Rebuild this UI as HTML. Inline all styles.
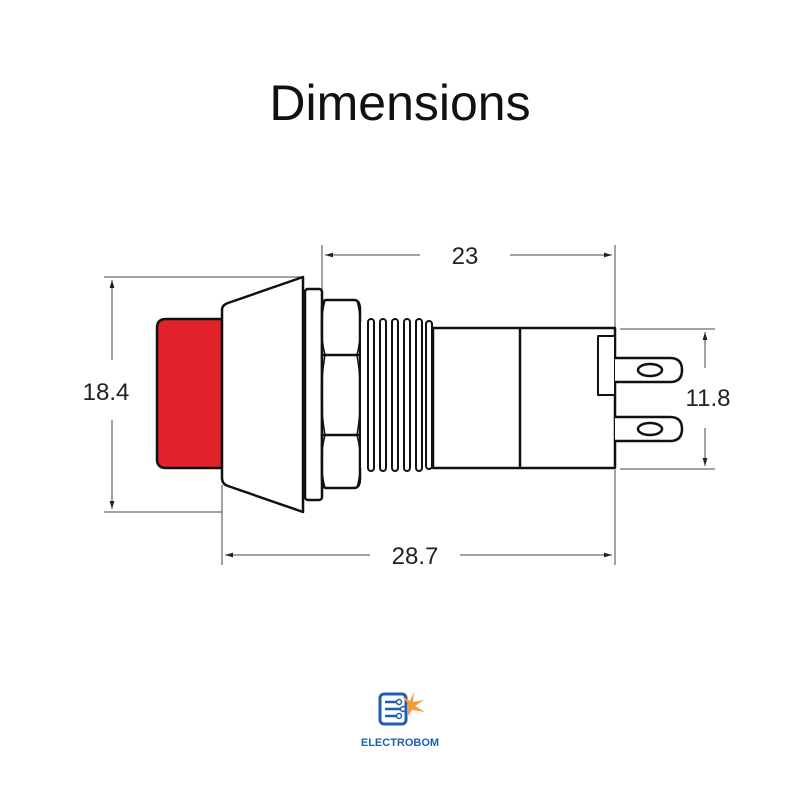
<!DOCTYPE html>
<html><head><style>body{margin:0;background:#fff}svg{display:block}</style></head><body>
<svg width="800" height="800" viewBox="0 0 800 800" xmlns="http://www.w3.org/2000/svg" font-family="Liberation Sans, sans-serif">
<defs><marker id="a" viewBox="0 0 10 10" refX="10" refY="5" markerWidth="8" markerHeight="8" orient="auto-start-reverse"><path d="M0,2 L10,5 L0,8 z" fill="#222"/></marker></defs>
<text x="400" y="120" text-anchor="middle" font-size="50" fill="#111">Dimensions</text>
<g stroke="#444" stroke-width="1" fill="none">
<line x1="104" y1="277" x2="303" y2="277"/><line x1="104" y1="512" x2="222" y2="512"/>
<line x1="112" y1="280" x2="112" y2="360" marker-start="url(#a)"/><line x1="112" y1="420" x2="112" y2="509" marker-end="url(#a)"/>
<line x1="322" y1="245" x2="322" y2="290"/><line x1="615" y1="245" x2="615" y2="330"/>
<line x1="325" y1="255" x2="420" y2="255" marker-start="url(#a)"/><line x1="510" y1="255" x2="612" y2="255" marker-end="url(#a)"/>
<line x1="222" y1="485" x2="222" y2="565"/><line x1="615" y1="470" x2="615" y2="565"/>
<line x1="225" y1="555" x2="370" y2="555" marker-start="url(#a)"/><line x1="460" y1="555" x2="612" y2="555" marker-end="url(#a)"/>
<line x1="620" y1="329" x2="715" y2="329"/><line x1="620" y1="469" x2="715" y2="469"/>
<line x1="705" y1="332" x2="705" y2="368" marker-start="url(#a)"/><line x1="705" y1="428" x2="705" y2="466" marker-end="url(#a)"/>
</g>
<g font-size="24" fill="#222" text-anchor="middle">
<text x="106" y="400">18.4</text><text x="465" y="264">23</text><text x="415" y="564">28.7</text><text x="708" y="406">11.8</text>
</g>
<g stroke="#111" stroke-width="2.5" stroke-linejoin="round">
<path d="M222,319 H166 Q157,319 157,328 V459 Q157,468 166,468 H222 Z" fill="#e3232b"/>
<path d="M222,310 Q222,305 228,303 L303,277 V512 L228,486 Q222,484 222,478 Z" fill="#fff"/>
<rect x="305" y="289" width="17" height="211" rx="3" fill="#fff"/>
<path d="M326,300 H354 Q360,300 360,310 V478 Q360,488 354,488 H326 Q322,488 322,478 V310 Q322,300 326,300 Z" fill="#fff"/>
<path d="M322,355 H360 M322,435 H360" fill="none"/>
<path d="M325,300 Q318,327 325,355 Q318,395 325,435 Q318,462 325,488 M357,300 Q364,327 357,355 Q364,395 357,435 Q364,462 357,488" fill="none" stroke-width="1.5"/>
<rect x="360" y="322" width="72" height="146" fill="#fff" stroke="none"/>
<g fill="#fff" stroke-width="2">
<rect x="368" y="319" width="6" height="152" rx="3"/><rect x="380" y="319" width="6" height="152" rx="3"/>
<rect x="392" y="319" width="6" height="152" rx="3"/><rect x="404" y="319" width="6" height="152" rx="3"/>
<rect x="416" y="319" width="6" height="152" rx="3"/><rect x="426" y="321" width="6" height="148" rx="3"/>
</g>
<path d="M360,322 V468" fill="none" stroke-width="2"/>
<rect x="433" y="328" width="182" height="140" fill="#fff"/>
<line x1="520" y1="328" x2="520" y2="468"/>
<rect x="598" y="336" width="17" height="59" fill="#fff" stroke-width="2"/>
<path d="M615,358 H670 Q682,358 682,370 Q682,382 670,382 H615" fill="#fff"/>
<path d="M615,417 H670 Q682,417 682,429 Q682,441 670,441 H615" fill="#fff"/>
<ellipse cx="650" cy="370" rx="12" ry="6" fill="#fff"/><ellipse cx="650" cy="429" rx="12" ry="6" fill="#fff"/>
</g>
<g transform="translate(380,692)">
<rect x="0" y="2" width="26" height="30" rx="4" fill="none" stroke="#1f5fae" stroke-width="3"/>
<path d="M5,10 H16 M5,17 H20 M5,24 H16" stroke="#1f5fae" stroke-width="2.5"/>
<circle cx="19" cy="10" r="2.5" fill="#fff" stroke="#1f5fae" stroke-width="1.5"/><circle cx="23" cy="17" r="2.5" fill="#fff" stroke="#1f5fae" stroke-width="1.5"/><circle cx="19" cy="24" r="2.5" fill="#fff" stroke="#1f5fae" stroke-width="1.5"/>
<path d="M34,0 L33,10 L44,8 L35,14 L45,20 L32,18 L28,24 L28,12 L22,4 L30,9 Z" fill="#f39a3a"/>
</g>
<text x="400" y="746" text-anchor="middle" font-size="11" font-weight="bold" fill="#1f5fae">ELECTROBOM</text>
</svg>
</body></html>
